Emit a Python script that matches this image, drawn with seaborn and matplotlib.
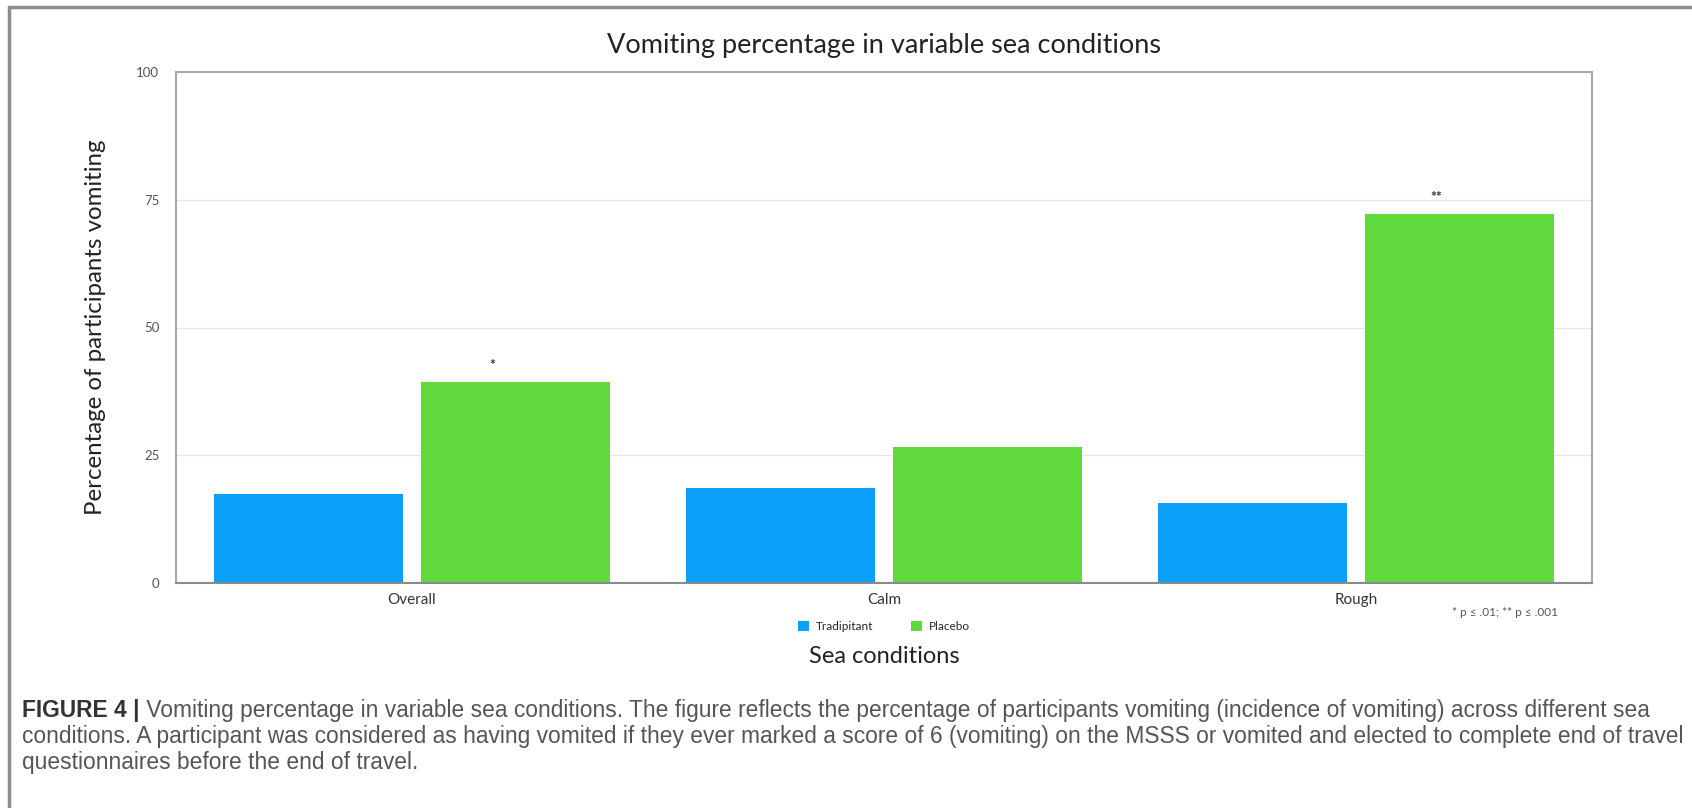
import matplotlib
matplotlib.use("Agg")
import matplotlib.pyplot as plt
from matplotlib.lines import Line2D
import seaborn as sns
import pandas as pd

categories = ["Overall", "Calm", "Rough"]
groups = ["Tradipitant", "Placebo"]
tradipitant = [17.5, 18.6, 15.7]
placebo = [39.4, 26.7, 72.2]
significance = ["*", "", "**"]
yticks = [0, 25, 50, 75, 100]
colors = {"Tradipitant": "#0a9ff8", "Placebo": "#5fd93c"}

rows = []
for i, c in enumerate(categories):
    rows.append({"cond": c, "group": "Tradipitant", "pct": tradipitant[i]})
    rows.append({"cond": c, "group": "Placebo", "pct": placebo[i]})
df = pd.DataFrame(rows)

sns.set_style("white")
plt.rcParams["font.family"] = ["Lato", "DejaVu Sans"]

fig = plt.figure(figsize=(16.92, 8.08), dpi=100)
ax = fig.add_axes([176/1692, 1-583/808, (1592-176)/1692, (583-72)/808])

sns.barplot(data=df, x="cond", y="pct", hue="group", order=categories,
            hue_order=groups, palette=colors, width=0.88, gap=0.09,
            saturation=1, ax=ax, linewidth=0)

ax.set_xlim(-0.5, 2.5)
ax.set_ylim(0, 100)
ax.set_yticks(yticks)
ax.set_yticklabels([str(t) for t in yticks], fontsize=9.5, color="#555555")
ax.tick_params(axis="y", length=0, pad=12)
ax.tick_params(axis="x", length=0, pad=7, labelsize=11, labelcolor="#333333")
for t in yticks[1:-1]:
    ax.axhline(t, color="#e6e6e6", lw=1, zorder=0)
for s in ax.spines.values():
    s.set_color("#a8a8a8")
    s.set_linewidth(1.5)
ax.spines["bottom"].set_color("#8a8a8a")

# significance markers
for i, s in enumerate(significance):
    if s:
        ax.text(i + 0.17, placebo[i] + 3.3, s, ha="center", va="center",
                fontsize=10, color="#333333", fontweight="bold")

ax.set_xlabel("Sea conditions", fontsize=17, color="#222222", labelpad=28)
ax.set_ylabel("Percentage of participants vomiting", fontsize=17.3,
              color="#222222", labelpad=22)
ax.set_title("Vomiting percentage in variable sea conditions", fontsize=19.5,
             color="#222222", pad=14)

sns.move_legend(ax, "center", bbox_to_anchor=(0.5, -0.085), ncol=2,
                frameon=False, title=None, fontsize=8.5, handlelength=0.9,
                handleheight=0.9, columnspacing=3.2, handletextpad=0.6)

fig.text(1452/1692, 1-613/808, "* p \u2264 .01; ** p \u2264 .001", fontsize=8.5,
         color="#555555", va="center", ha="left")

# caption
cap_font = ["Liberation Sans", "DejaVu Sans"]
cap_size = 16.4
lines = [
    " Vomiting percentage in variable sea conditions. The figure reflects the percentage of participants vomiting (incidence of vomiting) across different sea",
    "conditions. A participant was considered as having vomited if they ever marked a score of 6 (vomiting) on the MSSS or vomited and elected to complete end of travel",
    "questionnaires before the end of travel.",
]
b = fig.text(22/1692, 1-710/808, "FIGURE 4 |", fontsize=cap_size, fontweight="bold",
             color="#333333", family=cap_font, va="center", ha="left")
ax.annotate(lines[0], xy=(1, 0.5), xycoords=b, va="center", ha="left",
            fontsize=cap_size, color="#555555", family=cap_font)
fig.text(22/1692, 1-736/808, lines[1], fontsize=cap_size, color="#555555",
         family=cap_font, va="center", ha="left")
fig.text(22/1692, 1-762/808, lines[2], fontsize=cap_size, color="#555555",
         family=cap_font, va="center", ha="left")

# outer frame (left & top)
fig.add_artist(Line2D([9/1692, 9/1692], [0, 1-7/808], transform=fig.transFigure,
                      color="#8c8c8c", lw=2.5))
fig.add_artist(Line2D([9/1692, 1], [1-7/808, 1-7/808], transform=fig.transFigure,
                      color="#8c8c8c", lw=2.5))

fig.savefig("out.png", dpi=100)
